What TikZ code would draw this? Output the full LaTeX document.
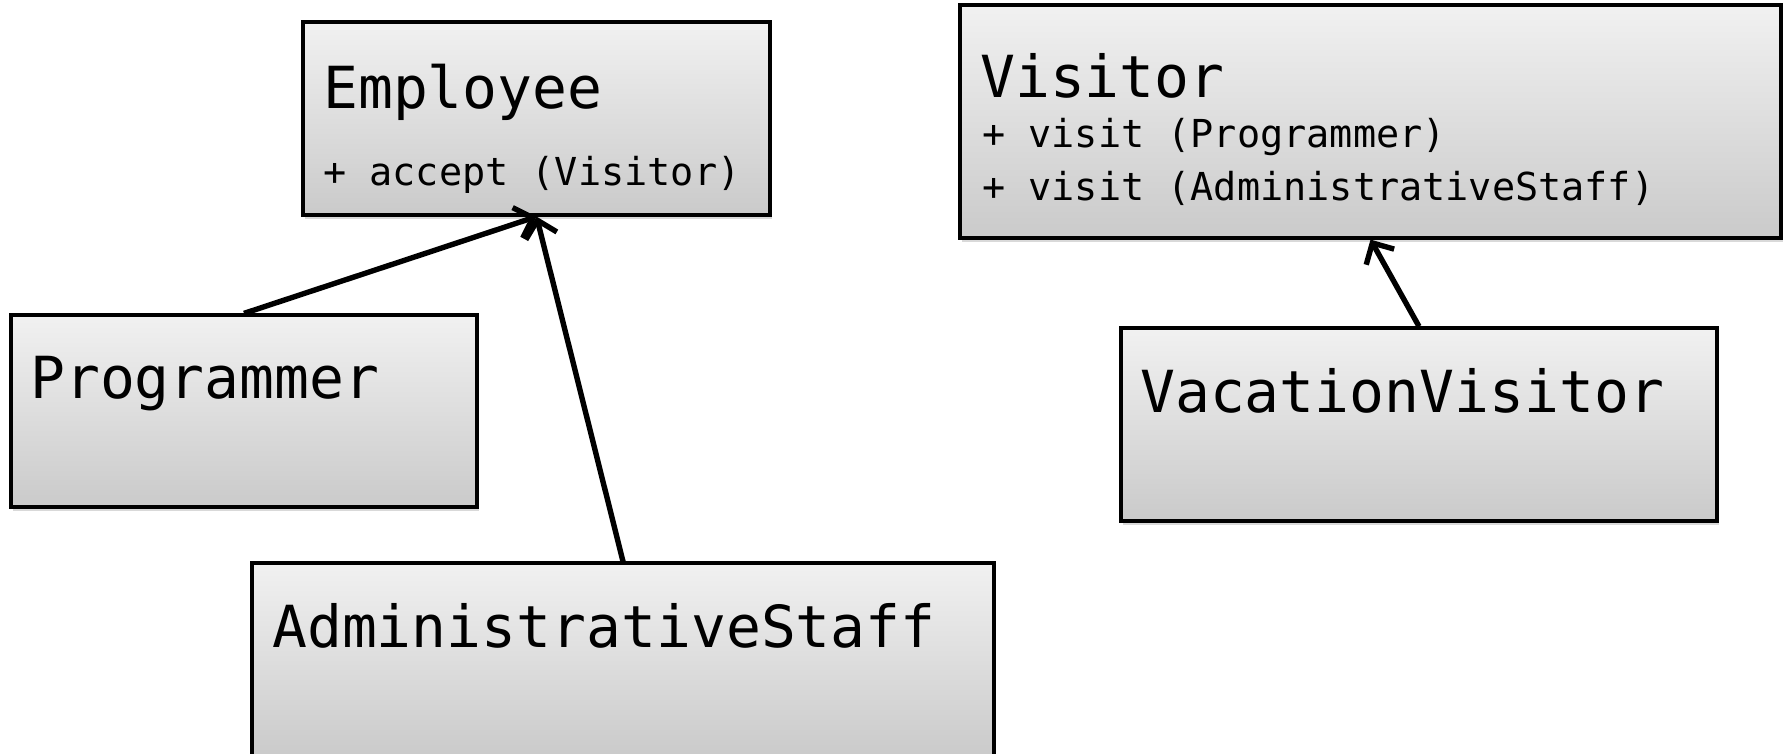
\documentclass[tikz,border=0pt]{standalone}
\usepackage{fontspec}
\newfontfamily\monof{DejaVu Sans Mono}
\usetikzlibrary{arrows.meta,shadows}
\definecolor{boxtop}{RGB}{241,241,241}
\definecolor{boxbot}{RGB}{202,202,202}
\tikzset{
  classbox/.style={draw=black, line width=3.2pt, rectangle, inner sep=0pt,
    top color=boxtop, bottom color=boxbot,
    drop shadow={shadow xshift=2pt, shadow yshift=-4pt, opacity=0.25, fill=black!60}},
  titletext/.style={anchor=base west, inner sep=0pt, font=\monof\fontsize{58}{62}\selectfont},
  membertext/.style={anchor=base west, inner sep=0pt, font=\monof\fontsize{38.5}{42}\selectfont},
  inherit/.style={line width=5.4pt, -{Straight Barb[length=16pt,width=32pt]}}
}
\begin{document}
\begin{tikzpicture}[x=1pt,y=-1pt]
\useasboundingbox (0,0) rectangle (1787,753);
% boxes
\node[classbox, minimum width=467pt, minimum height=193pt] (emp) at (536.5,118.5) {};
\node[classbox, minimum width=466pt, minimum height=192pt] (prog) at (244,411) {};
\node[classbox, minimum width=742pt, minimum height=194pt] (admin) at (623,660) {};
\node[classbox, minimum width=821pt, minimum height=233pt] (visitor) at (1370.5,121.5) {};
\node[classbox, minimum width=596pt, minimum height=193pt] (vac) at (1419,424.5) {};
% texts
\node[titletext] (empT) at (323,108) {Employee};
\node[membertext] (empM) at (323,185) {+ accept (Visitor)};
\node[titletext] (progT) at (30,398) {Programmer};
\node[titletext] (adminT) at (272,647) {AdministrativeStaff};
\node[titletext] (visT) at (980,97) {Visitor};
\node[membertext] (visM1) at (982,147) {+ visit (Programmer)};
\node[membertext] (visM2) at (982,200) {+ visit (AdministrativeStaff)};
\node[titletext] (vacT) at (1140,412) {VacationVisitor};
% connectors
\draw[inherit] (prog.north) -- (emp.south);
\draw[inherit] (admin.north) -- (emp.south);
\draw[inherit] (vac.north) -- (visitor.south);
\end{tikzpicture}
\end{document}
